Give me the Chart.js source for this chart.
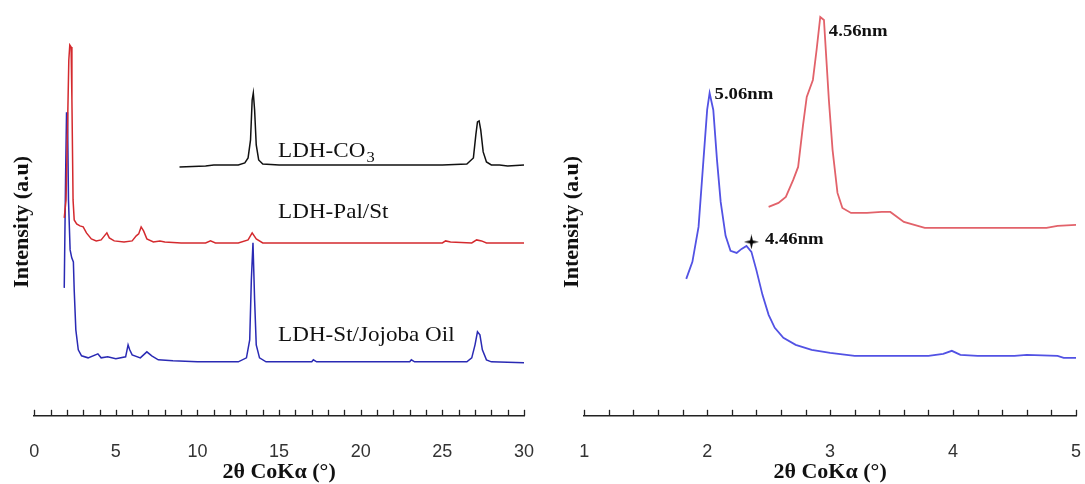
<!DOCTYPE html>
<html>
<head>
<meta charset="utf-8">
<script src="https://cdn.jsdelivr.net/npm/chart.js@4.4.1/dist/chart.umd.min.js"></script>
<style>
  html, body { margin: 0; padding: 0; background: #fff; }
  #wrap { position: relative; width: 1085px; height: 484px; overflow: hidden; }
  .panel { position: absolute; top: 0; height: 484px; }
  #pl { left: 0; width: 545px; }
  #pr { left: 545px; width: 540px; }
</style>
</head>
<body>
<div id="wrap">
  <div class="panel" id="pl"><canvas id="cl"></canvas></div>
  <div class="panel" id="pr"><canvas id="cr"></canvas></div>
</div>
<script>
// ---- Wide-angle patterns (2θ 0–30°), intensity in arbitrary units ----
const co3X = [8.9, 10.5, 11.0, 12.5, 12.9, 13.1, 13.25, 13.35, 13.42, 13.5, 13.6, 13.75, 14.0, 15, 20, 25, 26.5, 26.9, 27.05, 27.15, 27.25, 27.35, 27.5, 27.7, 28, 28.5, 29, 30];
const co3Y = [249, 250, 251, 251, 253, 258, 276, 316, 323, 306, 271, 256, 252, 251, 251, 251, 252, 258, 281, 294, 295, 286, 264, 254, 251, 251, 250, 251];

const palX = [1.84, 1.95, 2.05, 2.12, 2.18, 2.26, 2.31, 2.38, 2.45, 2.6, 2.8, 3.0, 3.2, 3.5, 3.8, 4.1, 4.3, 4.45, 4.6, 4.9, 5.5, 6.0, 6.25, 6.4, 6.55, 6.7, 6.9, 7.3, 7.7, 8, 9, 10.5, 10.8, 11.1, 12.5, 13.1, 13.35, 13.6, 14, 20, 25, 25.2, 25.5, 26.8, 27.1, 27.4, 27.7, 30];
const palY = [198, 216, 296, 356, 371, 369, 316, 216, 196, 192, 190, 189, 183, 177, 175, 176, 180, 183, 178, 175, 174, 175, 180, 182, 189, 185, 177, 174, 175, 174, 173, 173, 175, 173, 173, 176, 183, 177, 173, 173, 173, 175, 174, 173, 176, 175, 173, 173];

const jojX = [1.84, 1.92, 1.98, 2.04, 2.1, 2.2, 2.3, 2.4, 2.45, 2.55, 2.7, 2.9, 3.3, 3.9, 4.1, 4.5, 5.0, 5.6, 5.75, 5.85, 6.0, 6.5, 6.9, 7.2, 7.6, 8.5, 10, 12.5, 13.0, 13.2, 13.3, 13.4, 13.5, 13.6, 13.8, 14.2, 17, 17.1, 17.3, 23, 23.1, 23.3, 26.5, 26.8, 27.0, 27.15, 27.3, 27.45, 27.7, 28, 30];
const jojY = [128, 236, 303, 303, 216, 166, 158, 154, 126, 86, 66, 60, 58, 62, 58, 59, 57, 59, 71, 66, 61, 58, 64, 60, 56, 55, 54, 54, 58, 76, 136, 173, 116, 71, 58, 54, 54, 56, 54, 54, 56, 54, 54, 58, 71, 84, 81, 66, 56, 54, 53];

// ---- Low-angle patterns (2θ 1–5°) ----
const lowJojX = [1.83, 1.88, 1.93, 1.97, 2.0, 2.02, 2.05, 2.08, 2.11, 2.15, 2.19, 2.24, 2.28, 2.32, 2.36, 2.4, 2.45, 2.5, 2.55, 2.62, 2.72, 2.85, 3.0, 3.2, 3.5, 3.8, 3.92, 3.99, 4.06, 4.2, 4.5, 4.6, 4.85, 4.9, 5.0];
const lowJojY = [137, 154, 189, 256, 306, 323, 306, 256, 214, 180, 165, 163, 167, 170, 164, 146, 121, 101, 88, 78, 71, 66, 63, 60, 60, 60, 62, 65, 61, 60, 60, 61, 60, 58, 58];

const lowPalX = [2.5, 2.58, 2.64, 2.7, 2.74, 2.78, 2.81, 2.86, 2.89, 2.92, 2.95, 2.97, 2.99, 3.02, 3.06, 3.10, 3.17, 3.3, 3.42, 3.49, 3.6, 3.77, 4.0, 4.5, 4.76, 4.85, 5.0];
const lowPalY = [209, 213, 219, 236, 249, 291, 319, 336, 366, 399, 396, 356, 316, 266, 223, 208, 203, 203, 204, 204, 194, 188, 188, 188, 188, 190, 191];

// ---- Tick labels ----
const wideTickLabels = [0, 5, 10, 15, 20, 25, 30];
const lowTickLabels = [1, 2, 3, 4, 5];

// ---- Sample names and d-spacing labels ----
const sampleNames = ['LDH-CO|3', 'LDH-Pal/St', 'LDH-St/Jojoba Oil'];
const spacingNames = ['5.06nm', '4.56nm', '4.46nm'];
const shoulderX = [2.36];
const shoulderY = [174];

const pts = (xs, ys) => xs.map((x, i) => ({ x: x, y: ys[i] }));

// label anchors (data coordinates)
const sampleAnchors = [[14.94, 264], [14.94, 203], [14.94, 80]];
const spacingAnchors = [[2.06, 321], [2.99, 384], [2.47, 176]];

function textLabels(items, font, subFont, stretch) {
  return {
    id: 'textLabels',
    afterDatasetsDraw(chart) {
      const { ctx, scales } = chart;
      ctx.save();
      ctx.fillStyle = '#111';
      ctx.textBaseline = 'middle';
      ctx.textAlign = 'left';
      items.forEach(([txt, x, y]) => {
        const px = scales.x.getPixelForValue(x);
        const py = scales.y.getPixelForValue(y);
        const [main, sub] = txt.split('|');
        ctx.save();
        ctx.translate(px, py);
        ctx.scale(stretch, 1);
        ctx.font = font;
        ctx.fillText(main, 0, 0);
        if (sub) {
          const w = ctx.measureText(main).width;
          ctx.font = subFont;
          ctx.fillText(sub, w + 1, 6);
        }
        ctx.restore();
      });
      ctx.restore();
    }
  };
}

// short tick marks pointing up into the plot from the axis line
const innerTicks = {
  id: 'innerTicks',
  afterDraw(chart) {
    const s = chart.scales.x;
    const ctx = chart.ctx;
    const yb = chart.chartArea.bottom;
    ctx.save();
    ctx.strokeStyle = '#222';
    ctx.lineWidth = 1.3;
    s.ticks.forEach(t => {
      const px = Math.round(s.getPixelForValue(t.value)) + 0.5;
      ctx.beginPath();
      ctx.moveTo(px, yb);
      ctx.lineTo(px, yb - 6);
      ctx.stroke();
    });
    ctx.restore();
  }
};

function starImage(size) {
  const c = document.createElement('canvas');
  c.width = c.height = size;
  const g = c.getContext('2d');
  const r = size / 2, ri = size * 0.13;
  g.beginPath();
  for (let i = 0; i < 8; i++) {
    const a = i * Math.PI / 4 - Math.PI / 2;
    const rr = (i % 2) ? ri : r;
    g.lineTo(r + rr * Math.cos(a), r + rr * Math.sin(a));
  }
  g.closePath();
  g.fillStyle = '#000';
  g.fill();
  return c;
}

const serif = '"Liberation Serif", "Times New Roman", serif';

function baseOptions(xmin, xmax, step, labels, yTitlePad) {
  return {
    responsive: true,
    maintainAspectRatio: false,
    animation: false,
    events: [],
    layout: { padding: { top: 28, right: 0, left: 0, bottom: 0 } },
    plugins: { legend: { display: false }, tooltip: { enabled: false } },
    elements: { point: { radius: 0 }, line: { tension: 0 } },
    scales: {
      x: {
        type: 'linear',
        min: xmin, max: xmax,
        grid: { display: false, drawTicks: true, tickLength: 28 },
        border: { display: true, color: '#222', width: 1.6 },
        ticks: {
          stepSize: step,
          autoSkip: false,
          maxRotation: 0, minRotation: 0,
          padding: -1,
          color: '#333',
          font: { family: '"Liberation Sans", Arial, sans-serif', size: 18, lineHeight: 1 },
          callback: (v) => {
            const r = Math.round(v);
            return (Math.abs(v - r) < 1e-6 && labels.includes(r)) ? String(r) : '';
          }
        },
        title: {
          display: true,
          text: '2θ CoKα (°)',
          color: '#111',
          padding: { top: 0, bottom: 0 },
          font: { family: serif, size: 22, weight: 'bold', lineHeight: 1.1 }
        }
      },
      y: {
        min: 0, max: 388,
        grid: { display: false, drawTicks: false },
        border: { display: false },
        ticks: { display: false },
        title: {
          display: true,
          text: 'Intensity (a.u)',
          color: '#111',
          padding: yTitlePad,
          font: { family: serif, size: 22, weight: 'bold', lineHeight: 1.1 }
        }
      }
    }
  };
}

const left = baseOptions(0, 30, 1, wideTickLabels, { top: 10, bottom: 0 });
left.layout.padding.right = 21;
new Chart(document.getElementById('cl'), {
  type: 'scatter',
  data: {
    datasets: [
      { data: pts(co3X, co3Y), showLine: true, borderColor: '#111', borderWidth: 1.5, clip: false },
      { data: pts(palX, palY), showLine: true, borderColor: '#d42a2e', borderWidth: 1.5, clip: false },
      { data: pts(jojX, jojY), showLine: true, borderColor: '#2a2ab4', borderWidth: 1.5, clip: false }
    ]
  },
  options: left,
  plugins: [innerTicks, textLabels(
    sampleNames.map((n, i) => [n, sampleAnchors[i][0], sampleAnchors[i][1]]),
    '21px ' + serif, '15px ' + serif, 1.1)]
});

const right = baseOptions(1, 5, 0.2, lowTickLabels, { top: 15, bottom: 0 });
right.layout.padding.right = 7;
new Chart(document.getElementById('cr'), {
  type: 'scatter',
  data: {
    datasets: [
      { data: pts(lowPalX, lowPalY), showLine: true, borderColor: '#e2626a', borderWidth: 1.8, clip: false },
      { data: pts(lowJojX, lowJojY), showLine: true, borderColor: '#5252e4', borderWidth: 1.8, clip: false },
      { data: pts(shoulderX, shoulderY), showLine: false, pointStyle: starImage(15), pointRadius: 8, clip: false }
    ]
  },
  options: right,
  plugins: [innerTicks, textLabels(
    spacingNames.map((n, i) => [n, spacingAnchors[i][0], spacingAnchors[i][1]]),
    'bold 17px ' + serif, 'bold 12px ' + serif, 1.1)]
});
</script>
</body>
</html>
